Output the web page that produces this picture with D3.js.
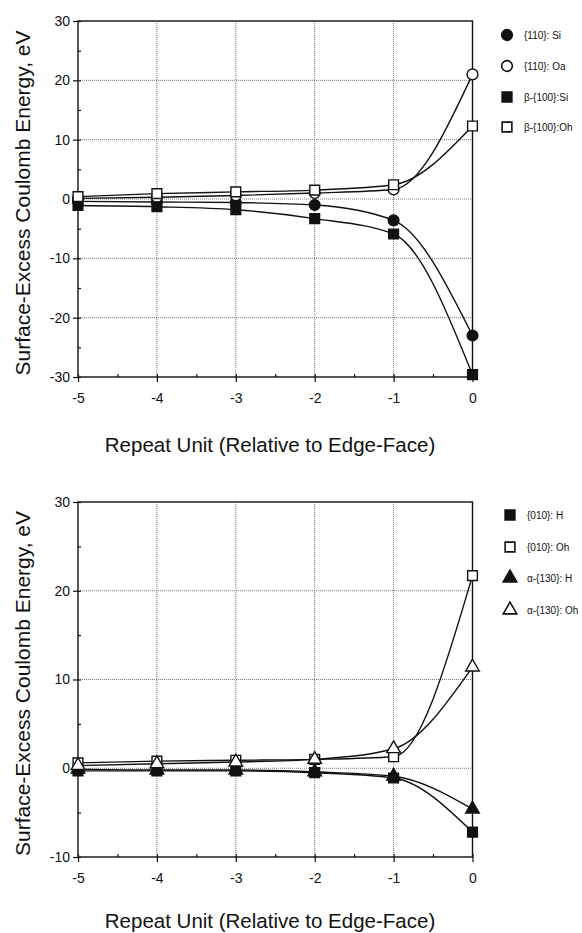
<!DOCTYPE html>
<html>
<head>
<meta charset="utf-8">
<style>
  body {
    margin: 0;
    background: #fff
  }
  svg {
    display: block
  }
  text {
    font-family: "Liberation Sans", Arial, sans-serif;
    fill: #111
  }
</style>
<script type="text/javascript" src="https://d3js.org/d3.v7.min.js"></script>
</head>
<body>
<svg id="chart"></svg>
<script type="text/javascript">
let width = 582,
    height = 933

let repeatUnits = [-5, -4, -3, -2, -1, 0]
let xTicks = [-5, -4, -3, -2, -1, 0]

// top panel
let topNames = ['{110}: Si', '{110}: Oa', 'β-{100}:Si', 'β-{100}:Oh']
let si110 = [-0.4, -0.5, -0.6, -1.0, -3.6, -23.0]
let oa110 = [0.1, 0.3, 0.6, 1.0, 1.6, 21.0]
let siB100 = [-1.1, -1.3, -1.8, -3.3, -5.9, -29.6]
let ohB100 = [0.4, 0.9, 1.2, 1.5, 2.4, 12.3]
let topYTicks = [-30, -20, -10, 0, 10, 20, 30]

// bottom panel
let bottomNames = ['{010}: H', '{010}: Oh', 'α-{130}: H', 'α-{130}: Oh']
let h010 = [-0.3, -0.3, -0.3, -0.5, -1.1, -7.2]
let oh010 = [0.6, 0.8, 0.9, 1.0, 1.3, 21.7]
let hA130 = [-0.1, -0.2, -0.2, -0.4, -0.9, -4.6]
let ohA130 = [0.3, 0.5, 0.7, 1.0, 2.2, 11.4]
let bottomYTicks = [-10, 0, 10, 20, 30]

let svg = d3.select('#chart')
    .attr('width', width)
    .attr('height', height)

let plainFormat = d => String(d)

function drawPanel(opts) {
  let x = d3.scaleLinear().domain([-5, 0]).range([78, 472.5])
  let y = d3.scaleLinear().domain(opts.yDomain).range([opts.bottom, opts.top])
  let g = svg.append('g')

  // grid
  g.selectAll('.vgrid')
    .data(xTicks.slice(1, -1))
    .enter().append('line')
    .attr('x1', d => x(d)).attr('x2', d => x(d))
    .attr('y1', opts.top).attr('y2', opts.bottom)
    .attr('stroke', '#555').attr('stroke-width', 0.8).attr('stroke-dasharray', '1,1')
  g.selectAll('.hgrid')
    .data(opts.yTicks.slice(1, -1))
    .enter().append('line')
    .attr('x1', x(-5)).attr('x2', x(0))
    .attr('y1', d => y(d)).attr('y2', d => y(d))
    .attr('stroke', '#555').attr('stroke-width', 0.8).attr('stroke-dasharray', '1,1')

  // axes
  let yMinor = d3.range(opts.yDomain[0], opts.yDomain[1] + 0.1, 5)
  g.append('g')
    .attr('transform', 'translate(' + x(-5) + ',0)')
    .call(d3.axisLeft(y).tickValues(yMinor).tickSize(-3).tickFormat(''))
  g.append('g')
    .attr('transform', 'translate(' + x(-5) + ',0)')
    .call(d3.axisLeft(y).tickValues(opts.yTicks).tickSize(5).tickPadding(3).tickFormat(plainFormat))
  g.append('g')
    .attr('transform', 'translate(0,' + opts.bottom + ')')
    .call(d3.axisBottom(x).tickValues(d3.range(-5, 0.01, 0.5)).tickSize(-3).tickFormat(''))
  g.append('g')
    .attr('transform', 'translate(0,' + opts.bottom + ')')
    .call(d3.axisBottom(x).tickValues(xTicks).tickSize(5).tickPadding(11).tickFormat(plainFormat))
  g.selectAll('.domain').remove()
  g.selectAll('.tick line').attr('stroke', '#111').attr('stroke-width', 1.2)
  g.selectAll('.tick text')
    .style('font-family', '"Liberation Sans", Arial, sans-serif')
    .style('font-size', '14px')
    .attr('fill', '#111')

  g.append('rect')
    .attr('x', x(-5)).attr('y', opts.top)
    .attr('width', x(0) - x(-5)).attr('height', opts.bottom - opts.top)
    .attr('fill', 'none').attr('stroke', '#111').attr('stroke-width', 1.4)

  // titles
  g.append('text')
    .attr('transform', 'translate(30,' + ((opts.top + opts.bottom) / 2 + 4) + ') rotate(-90)')
    .attr('text-anchor', 'middle')
    .style('font-size', '21px')
    .text('Surface-Excess Coulomb Energy, eV')
  g.append('text')
    .attr('x', 270).attr('y', opts.titleY)
    .attr('text-anchor', 'middle')
    .style('font-size', '20.5px')
    .text('Repeat Unit (Relative to Edge-Face)')

  let line = d3.line()
    .x((d, i) => x(repeatUnits[i]))
    .y(d => y(d))
    .curve(d3.curveMonotoneX)

  opts.series.forEach(function(s) {
    g.append('path')
      .attr('d', line(s.values))
      .attr('fill', 'none')
      .attr('stroke', '#111')
      .attr('stroke-width', 1.4)
  })

  opts.series.forEach(function(s) {
    let sym = d3.symbol().type(s.shape).size(s.size)
    g.selectAll(null)
      .data(s.values)
      .enter().append('path')
      .attr('transform', (d, i) => 'translate(' + x(repeatUnits[i]) + ',' + y(d) + ')')
      .attr('d', sym)
      .attr('fill', s.filled ? '#111' : '#fff')
      .attr('stroke', '#111')
      .attr('stroke-width', 1.4)
  })

  // legend
  let leg = g.append('g')
  opts.series.forEach(function(s, i) {
    let ly = opts.legendY[i]
    leg.append('path')
      .attr('transform', 'translate(' + opts.legendX + ',' + ly + ')')
      .attr('d', d3.symbol().type(s.shape).size(s.size)())
      .attr('fill', s.filled ? '#111' : '#fff')
      .attr('stroke', '#111')
      .attr('stroke-width', 1.6)
    leg.append('text')
      .attr('x', opts.legendX + 17).attr('y', ly + 4)
      .style('font-size', '10px')
      .text(opts.names[i])
  })
}

drawPanel({
  yDomain: [-30, 30],
  yTicks: topYTicks,
  top: 21,
  bottom: 377,
  titleY: 452,
  legendX: 507,
  legendY: [35, 66, 97, 127],
  names: topNames,
  series: [
    {values: si110, shape: d3.symbolCircle, size: 90, filled: true},
    {values: oa110, shape: d3.symbolCircle, size: 90, filled: false},
    {values: siB100, shape: d3.symbolSquare, size: 95, filled: true},
    {values: ohB100, shape: d3.symbolSquare, size: 95, filled: false}
  ]
})

drawPanel({
  yDomain: [-10, 30],
  yTicks: bottomYTicks,
  top: 502,
  bottom: 857,
  titleY: 928,
  legendX: 510,
  legendY: [515, 547, 578, 610],
  names: bottomNames,
  series: [
    {values: h010, shape: d3.symbolSquare, size: 95, filled: true},
    {values: oh010, shape: d3.symbolSquare, size: 95, filled: false},
    {values: hA130, shape: d3.symbolTriangle, size: 80, filled: true},
    {values: ohA130, shape: d3.symbolTriangle, size: 80, filled: false}
  ]
})
</script>
</body>
</html>
